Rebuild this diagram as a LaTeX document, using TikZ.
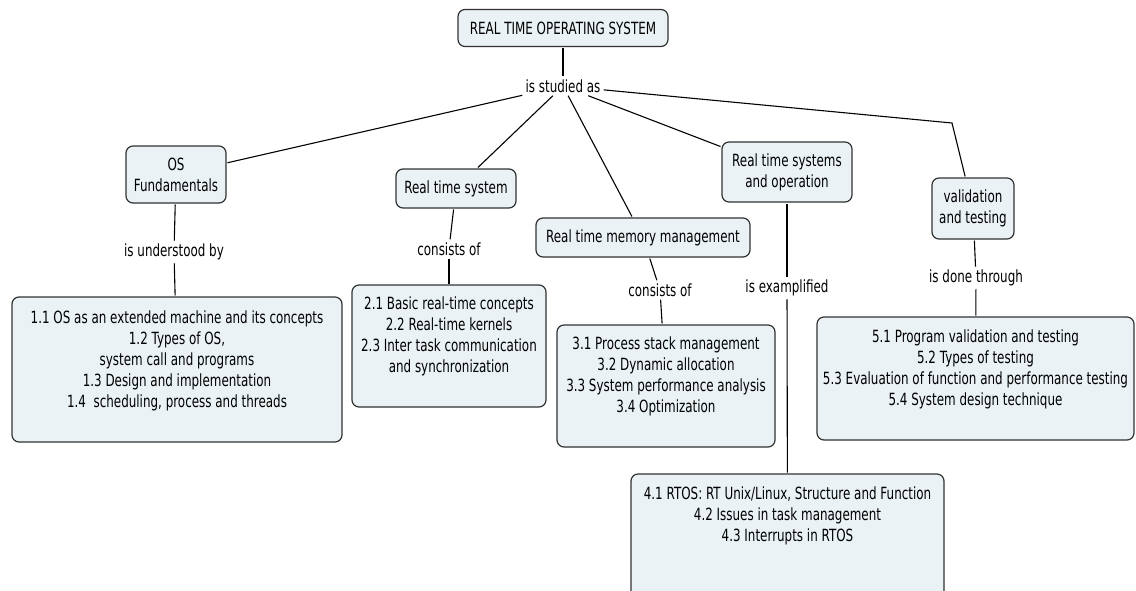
\documentclass[tikz,border=0pt]{standalone}
\usepackage{fontspec}
\setmainfont{DejaVu Sans}[FakeStretch=0.71]
\definecolor{boxfill}{RGB}{234,242,245}
\definecolor{boxline}{RGB}{50,50,50}
\newcommand{\bigbox}[4]{\parbox[c][#2pt][t]{#1pt}{\centering\vspace*{#3pt}#4}}
\begin{document}
\begin{tikzpicture}[x=1pt,y=-1pt,
  concept/.style={draw=boxline, fill=boxfill, line width=1.2pt, rounded corners=7pt,
    inner sep=0pt, outer sep=1.5pt, align=center, font=\fontsize{16.8}{21}\selectfont},
  linkl/.style={inner sep=3pt, align=center, font=\fontsize{16.8}{21}\selectfont},
  conn/.style={line width=1.1pt, draw=black}]
\useasboundingbox (0,0) rectangle (1136,590);

% top concept
\node[concept, minimum width=210pt, minimum height=37pt] (root) at (563,28) {REAL TIME OPERATING SYSTEM};
\node[linkl] (studied) at (563,86) {is studied as};

% second level concepts
\node[concept, minimum width=100pt, minimum height=57pt] (os) at (176,174.5) {OS\\Fundamentals};
\node[concept, minimum width=120pt, minimum height=39pt] (rts) at (456,188.5) {Real time system};
\node[concept, minimum width=214pt, minimum height=39pt] (mem) at (643,237.5) {Real time memory management};
\node[concept, minimum width=130pt, minimum height=60pt] (rtso) at (787,172) {Real time systems\\and operation};
\node[concept, minimum width=82pt, minimum height=61pt] (val) at (973,208.5) {validation\\and testing};
\coordinate (vbend) at (952,123);

% link labels
\node[linkl] (und) at (174,252) {is understood by};
\node[linkl] (cons1) at (449,249) {consists of};
\node[linkl] (cons2) at (660,290) {consists of};
\node[linkl] (exam) at (787,288) {is examplified};
\node[linkl] (done) at (976,278) {is done through};

% detail boxes
\node[concept] (b1) at (177,369.5) {\bigbox{330}{145}{13.5}{1.1 OS as an extended machine and its concepts\\
1.2 Types of OS,\\system call and programs\\1.3 Design and implementation\\1.4\ \ scheduling, process and threads}};
\node[concept] (b2) at (449,346) {\bigbox{194}{122}{12}{2.1 Basic real-time concepts\\2.2 Real-time kernels\\
2.3 Inter task communication\\and synchronization}};
\node[concept] (b3) at (666,386) {\bigbox{218}{122}{12}{3.1 Process stack management\\3.2 Dynamic allocation\\
3.3 System performance analysis\\3.4 Optimization}};
\node[concept] (b4) at (787.5,542) {\bigbox{313}{136}{13}{4.1 RTOS: RT Unix/Linux, Structure and Function\\
4.2 Issues in task management\\4.3 Interrupts in RTOS}};
\node[concept] (b5) at (975.5,378.5) {\bigbox{317}{123}{13}{5.1 Program validation and testing\\5.2 Types of testing\\
5.3 Evaluation of function and performance testing\\5.4 System design technique}};

% connectors
\draw[conn] (root) -- (studied);
\draw[conn] (studied) -- (os);
\draw[conn] (studied) -- (rts);
\draw[conn] (studied) -- (mem);
\draw[conn] (studied) -- (rtso);
\draw[conn] (studied) -- (vbend) -- (val);

\draw[conn] (os) -- (und);
\draw[conn] (und) -- (b1);
\draw[conn] (rts) -- (cons1);
\draw[conn] (cons1) -- (b2);
\draw[conn] (mem) -- (cons2);
\draw[conn] (cons2) -- (b3);
\draw[conn] (rtso) -- (exam);
\draw[conn] (exam) -- (b4);
\draw[conn] (val) -- (done);
\draw[conn] (done) -- (b5);
\end{tikzpicture}
\end{document}
